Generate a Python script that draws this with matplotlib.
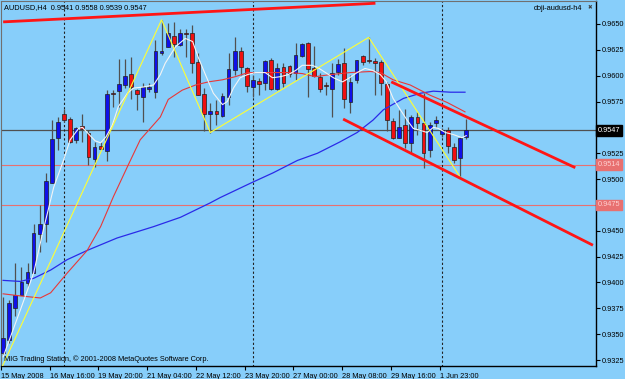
import numpy as np
import matplotlib
matplotlib.use('Agg')
import matplotlib.pyplot as plt
from matplotlib.transforms import blended_transform_factory

plt.rcParams['font.family'] = ['Liberation Sans', 'DejaVu Sans']

# AUDUSD H4 candles
opens = [0.9332, 0.9344, 0.9375, 0.9388, 0.9399, 0.9409, 0.9447, 0.9457, 0.9496, 0.9540,
         0.9563, 0.9558, 0.9538, 0.9551, 0.9545, 0.9519, 0.9532, 0.9527, 0.9583, 0.9585,
         0.9591, 0.9602, 0.9586, 0.9579, 0.9587, 0.9584, 0.9622, 0.9628, 0.9638, 0.9630,
         0.9641, 0.9641, 0.9613, 0.9582, 0.9563, 0.9566, 0.9561, 0.9579, 0.9605, 0.9624,
         0.9607, 0.9589, 0.9595, 0.9593, 0.9615, 0.9587, 0.9608, 0.9609, 0.9603, 0.9619,
         0.9632, 0.9607, 0.9599, 0.9591, 0.9587, 0.9604, 0.9612, 0.9575, 0.9596, 0.9619,
         0.9615, 0.9614, 0.9613, 0.9592, 0.9556, 0.9540, 0.9552, 0.9535, 0.9560, 0.9554,
         0.9528, 0.9554, 0.9544, 0.9547, 0.9531, 0.9520, 0.9541]
highs = [0.9386, 0.9383, 0.9419, 0.9415, 0.9419, 0.9457, 0.9475, 0.9506, 0.9557, 0.9560,
         0.9568, 0.9560, 0.9550, 0.9563, 0.9547, 0.9536, 0.9536, 0.9586, 0.9586, 0.9616,
         0.9616, 0.9618, 0.9587, 0.9593, 0.9593, 0.9634, 0.9654, 0.9651, 0.9652, 0.9645,
         0.9645, 0.9649, 0.9622, 0.9588, 0.9574, 0.9576, 0.9583, 0.9622, 0.9637, 0.9628,
         0.9608, 0.9601, 0.9598, 0.9615, 0.9617, 0.9612, 0.9612, 0.9610, 0.9632, 0.9632,
         0.9633, 0.9629, 0.9603, 0.9594, 0.9612, 0.9616, 0.9627, 0.9601, 0.9615, 0.9620,
         0.9637, 0.9617, 0.9615, 0.9594, 0.9559, 0.9567, 0.9568, 0.9562, 0.9565, 0.9583,
         0.9555, 0.9561, 0.9549, 0.9550, 0.9535, 0.9541, 0.9558]
lows = [0.9330, 0.9341, 0.9368, 0.9388, 0.9396, 0.9409, 0.9429, 0.9439, 0.9496, 0.9528,
        0.9555, 0.9535, 0.9535, 0.9536, 0.9514, 0.9512, 0.9528, 0.9517, 0.9570, 0.9570,
        0.9588, 0.9577, 0.9567, 0.9555, 0.9584, 0.9578, 0.9620, 0.9628, 0.9618, 0.9629,
        0.9618, 0.9603, 0.9581, 0.9546, 0.9545, 0.9552, 0.9560, 0.9572, 0.9601, 0.9601,
        0.9584, 0.9579, 0.9581, 0.9586, 0.9586, 0.9586, 0.9589, 0.9599, 0.9596, 0.9618,
        0.9579, 0.9599, 0.9584, 0.9581, 0.9560, 0.9601, 0.9569, 0.9564, 0.9593, 0.9610,
        0.9612, 0.9581, 0.9581, 0.9546, 0.9539, 0.9540, 0.9530, 0.9525, 0.9543, 0.9511,
        0.9521, 0.9550, 0.9541, 0.9525, 0.9516, 0.9502, 0.9539]
closes = [0.9346, 0.9380, 0.9388, 0.9400, 0.9410, 0.9448, 0.9457, 0.9498, 0.9539, 0.9555,
          0.9557, 0.9536, 0.9549, 0.9548, 0.9521, 0.9531, 0.9529, 0.9582, 0.9582, 0.9592,
          0.9600, 0.9589, 0.9582, 0.9589, 0.9589, 0.9624, 0.9624, 0.9641, 0.9631, 0.9641,
          0.9640, 0.9612, 0.9581, 0.9563, 0.9566, 0.9563, 0.9580, 0.9606, 0.9624, 0.9608,
          0.9590, 0.9596, 0.9592, 0.9614, 0.9587, 0.9607, 0.9593, 0.9602, 0.9620, 0.9631,
          0.9606, 0.9600, 0.9587, 0.9590, 0.9603, 0.9611, 0.9577, 0.9594, 0.9615, 0.9613,
          0.9614, 0.9612, 0.9593, 0.9557, 0.9540, 0.9550, 0.9535, 0.9560, 0.9554, 0.9525,
          0.9552, 0.9557, 0.9547, 0.9532, 0.9518, 0.9540, 0.9547]

# indicator lines (bar position, price)
white_x = [0, 2.8, 5.0, 6.6, 8.3, 9.9, 11.0, 12.4, 13.0, 13.8, 15.1, 16.0, 16.9, 17.9, 18.9,
           20.4, 21.4, 23.0, 24.7, 25.8, 26.6, 28.3, 29.9, 31.1, 32.0, 33.2, 34.5, 36.0, 36.8,
           37.8, 38.9, 40.1, 41.4, 43.0, 44.2, 45.5, 46.8, 48.0, 49.1, 50.7, 51.6, 52.9, 54.2,
           55.7, 56.6, 58.1, 59.4, 60.7, 61.9, 62.9, 64.0, 65.2, 66.3, 67.3, 68.5, 69.6, 70.6,
           71.4, 72.6, 73.9, 75.3, 76.0]
white_y = [0.9328, 0.9373, 0.9409, 0.9451, 0.9492, 0.9518, 0.9538, 0.9549, 0.9550, 0.9545,
           0.9537, 0.9535, 0.9541, 0.9552, 0.9570, 0.9583, 0.9588, 0.9589, 0.9591, 0.9601,
           0.9612, 0.9628, 0.9636, 0.9633, 0.9618, 0.9601, 0.9583, 0.9572, 0.9575, 0.9588,
           0.9598, 0.9601, 0.9603, 0.9603, 0.9598, 0.9599, 0.9601, 0.9605, 0.9610, 0.9610,
           0.9608, 0.9603, 0.9598, 0.9594, 0.9597, 0.9603, 0.9607, 0.9605, 0.9601, 0.9594,
           0.9578, 0.9567, 0.9557, 0.9549, 0.9547, 0.9545, 0.9550, 0.9549, 0.9545, 0.9543,
           0.9540, 0.9542]
red_x = [0, 2.8, 6.1, 7.8, 10.5, 13.8, 16.0, 18.1, 20.4, 22.5, 25.8, 27.1, 29.4, 31.6, 33.7,
         36.0, 38.1, 40.2, 42.5, 44.7, 46.8, 49.1, 51.2, 53.7, 57.0, 60.3, 61.9, 64.0, 66.8,
         70.1, 72.9, 75.8]
red_y = [0.9389, 0.9387, 0.9385, 0.9390, 0.9409, 0.9431, 0.9454, 0.9483, 0.9512, 0.9538,
         0.9560, 0.9577, 0.9586, 0.9591, 0.9594, 0.9596, 0.9599, 0.9603, 0.9603, 0.9603,
         0.9603, 0.9602, 0.9599, 0.9601, 0.9603, 0.9604, 0.9603, 0.9596, 0.9591, 0.9581,
         0.9574, 0.9565]
blue_x = [0, 2.8, 5.0, 7.8, 10.5, 13.8, 18.7, 24.7, 29.1, 34.0, 35.6, 40.6, 44.3, 48.3, 51.6,
          55.3, 58.1, 60.7, 62.4, 65.7, 68.5, 70.6, 73.4, 75.8]
blue_y = [0.9402, 0.9401, 0.9404, 0.9412, 0.9422, 0.9431, 0.9443, 0.9454, 0.9463, 0.9477,
          0.9482, 0.9496, 0.9506, 0.9518, 0.9525, 0.9536, 0.9545, 0.9557, 0.9567, 0.9578,
          0.9583, 0.9585, 0.9584, 0.9584]
zigzag_x = [-0.2, 26, 34, 60, 75]
zigzag_y = [0.9318, 0.9654, 0.9545, 0.9637, 0.9502]

# hand-drawn trendlines: (x0, y0, x1, y1)
trendlines = [(0, 0.9652, 61.1, 0.9670),
              (63.7, 0.9594, 93.9, 0.9511),
              (55.8, 0.9558, 96.8, 0.9436)]
hlines_red = [0.9514, 0.9475]
bid = 0.9547
separators = [10, 41, 72]

time_pos = [0, 8, 16, 24, 32, 40, 48, 56, 64, 72]
time_labels = ['15 May 2008', '16 May 16:00', '19 May 20:00', '21 May 04:00', '22 May 12:00',
               '23 May 20:00', '27 May 00:00', '28 May 08:00', '29 May 16:00', '1 Jun 23:00']
price_ticks = [0.9650, 0.9625, 0.9600, 0.9575, 0.9550, 0.9525, 0.9500, 0.9475,
               0.9450, 0.9425, 0.9400, 0.9375, 0.9350, 0.9325]
hidden_ticks = [0.9550, 0.9475]   # covered by the line price boxes

bg = '#87CEFA'
fs = 5.3

fig = plt.figure(figsize=(6.25, 3.79), dpi=100, facecolor=bg)
ax = fig.add_axes([1 / 625, 13 / 379, 595 / 625, 365 / 379])
ax.set_facecolor(bg)

x = np.arange(len(opens))
o = np.array(opens); c = np.array(closes)
cols = np.where(c > o, '#1010e8', np.where(c < o, '#f01010', '#303030'))

ax.hlines(hlines_red, -1, 100, color='#e87070', lw=0.8, zorder=1)
ax.hlines(bid, -1, 100, color='#505050', lw=0.9, zorder=1)
ax.vlines(separators, 0.9, 1.0, color='#202020', lw=0.8, linestyles=(0, (2, 2)), zorder=1)

ax.vlines(x, lows, highs, color='#505050', lw=0.9, zorder=2)
ax.bar(x, np.abs(c - o), bottom=np.minimum(o, c), width=0.62, color=cols,
       edgecolor='#202020', linewidth=0.5, zorder=3)

ax.plot(blue_x, blue_y, color='#2a2ae8', lw=0.9, zorder=4)
ax.plot(red_x, red_y, color='#e83838', lw=0.8, zorder=4)
ax.plot(white_x, white_y, color='#f4f4f4', lw=0.8, zorder=4)
ax.plot(zigzag_x, zigzag_y, color='#ffff33', lw=0.8, zorder=4)
for x0, y0, x1, y1 in trendlines:
    ax.plot([x0, x1], [y0, y1], color='#ff1515', lw=2, zorder=5, solid_capstyle='butt')

ax.set_xlim(-0.3, 97.3)
ax.set_ylim(0.93192, 0.96722)

ax.yaxis.tick_right()
ax.set_yticks(price_ticks)
ax.set_yticklabels(['' if p in hidden_ticks else '%.4f' % p for p in price_ticks])
ax.set_xticks([p - 0.35 for p in time_pos])
ax.set_xticklabels(time_labels, ha='left')
ax.tick_params(axis='both', labelsize=fs, colors='black', length=3, width=0.8, pad=1)
ax.tick_params(axis='x', pad=2)

for s in ['right', 'bottom']:
    ax.spines[s].set_color('black')
    ax.spines[s].set_linewidth(1)
for s in ['left', 'top']:
    ax.spines[s].set_color('#707070')
    ax.spines[s].set_linewidth(0.8)

# price labels on the right axis
tr = blended_transform_factory(ax.transAxes, ax.transData)
ax.text(1.003, bid, '%.4f' % bid, transform=tr, fontsize=fs, color='white', va='center',
        ha='left', bbox=dict(boxstyle='square,pad=0.25', fc='black', ec='black'), zorder=6)
for h in hlines_red:
    ax.text(1.003, h, '%.4f' % h, transform=tr, fontsize=fs, color='#ffd0d0', va='center',
            ha='left', bbox=dict(boxstyle='square,pad=0.25', fc='#e87070', ec='#e87070'), zorder=6)

fig.text(4 / 625, 1 - 8 / 379, 'AUDUSD,H4  0.9541 0.9558 0.9539 0.9547', fontsize=fs,
         va='center', ha='left', color='black')
fig.text(582 / 625, 1 - 8 / 379, 'doji-audusd-h4', fontsize=fs, va='center', ha='right',
         color='black')
fig.text(590 / 625, 1 - 8 / 379, '\u2716', fontsize=4, va='center', ha='center',
         color='#404040', family=['DejaVu Sans'])
fig.text(4 / 625, 1 - 359 / 379, 'MIG Trading Station, \u00a9 2001-2008 MetaQuotes Software Corp.',
         fontsize=fs, va='center', ha='left', color='black')

fig.savefig('out.png', dpi=100, facecolor=bg)
